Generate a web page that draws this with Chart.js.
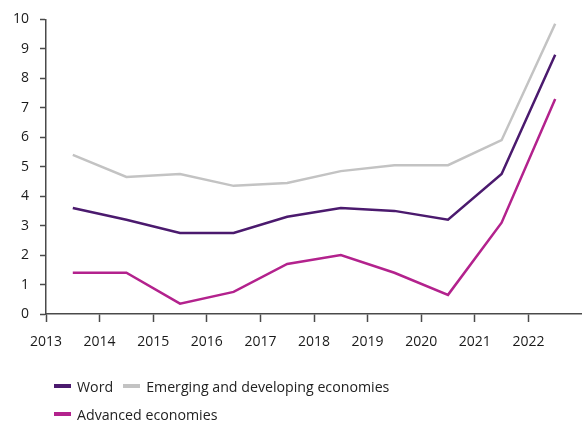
<!DOCTYPE html>
<html>
<head>
<meta charset="utf-8">
<script src="https://cdn.jsdelivr.net/npm/chart.js@4"></script>
<style>
  html, body { margin: 0; padding: 0; background: #fff; }
  #wrap { position: relative; width: 582px; height: 422px; }
  #legend { position: absolute; left: 54px; top: 374px; font-family: "Open Sans", sans-serif; font-size: 14.2px; color: #222; }
  .row { display: flex; align-items: center; height: 24px; margin-bottom: 4px; }
  .item { display: flex; align-items: center; margin-right: 10px; }
  .swatch { width: 17px; height: 4px; margin-right: 6px; }
</style>
</head>
<body>
<div id="wrap">
  <canvas id="chart" width="582" height="422"></canvas>
  <div id="legend"></div>
</div>
<script>
// annual values, plotted mid-year
const years = [2013, 2014, 2015, 2016, 2017, 2018, 2019, 2020, 2021, 2022];
const world = [3.6, 3.2, 2.75, 2.75, 3.3, 3.6, 3.5, 3.2, 4.75, 8.8];
const emerging = [5.4, 4.65, 4.75, 4.35, 4.45, 4.85, 5.05, 5.05, 5.9, 9.85];
const advanced = [1.4, 1.4, 0.35, 0.75, 1.7, 2.0, 1.4, 0.65, 3.1, 7.3];
const yTicks = [0, 1, 2, 3, 4, 5, 6, 7, 8, 9, 10];

const axisColor = '#4a4a4a';
const font = { family: '"Open Sans", sans-serif', size: 14 };

const series = [
  { label: 'Word', values: world, color: '#4b1a6e' },
  { label: 'Emerging and developing economies', values: emerging, color: '#c3c3c3' },
  { label: 'Advanced economies', values: advanced, color: '#b3228d' },
];

const ctx = document.getElementById('chart').getContext('2d');
new Chart(ctx, {
  type: 'line',
  data: {
    datasets: series.map(s => ({
      label: s.label,
      data: s.values.map((v, i) => ({ x: years[i] + 0.5, y: v })),
      borderColor: s.color,
      backgroundColor: s.color,
      borderWidth: 2.5,
      pointRadius: 0,
      tension: 0,
    }))
  },
  options: {
    responsive: false,
    animation: false,
    layout: { padding: { top: 17, right: 0, bottom: 0, left: 0 } },
    plugins: { legend: { display: false }, tooltip: { enabled: false } },
    scales: {
      x: {
        type: 'linear',
        min: years[0],
        max: years[years.length - 1] + 1,
        afterBuildTicks: s => { s.ticks = years.map(v => ({ value: v })); },
        afterFit: s => { s.height = 108; },
        border: { color: axisColor, width: 1.5 },
        grid: { drawOnChartArea: false, tickLength: 8, color: axisColor, tickWidth: 1.5 },
        ticks: { font, color: '#1a1a1a', padding: 12, maxRotation: 0, callback: v => String(v) },
      },
      y: {
        min: 0,
        max: 10,
        afterBuildTicks: s => { s.ticks = yTicks.map(v => ({ value: v })); },
        afterFit: s => { s.width = 46; },
        border: { color: axisColor, width: 1.5 },
        grid: { drawOnChartArea: false, tickLength: 6, color: axisColor, tickWidth: 1.5 },
        ticks: { font, color: '#1a1a1a', padding: 11 },
      }
    }
  }
});

// legend below the axis, two rows
const legend = document.getElementById('legend');
const rows = [[series[0], series[1]], [series[2]]];
rows.forEach(r => {
  const row = document.createElement('div');
  row.className = 'row';
  r.forEach(s => {
    const item = document.createElement('div');
    item.className = 'item';
    item.innerHTML = `<span class="swatch" style="background:${s.color}"></span><span>${s.label}</span>`;
    row.appendChild(item);
  });
  legend.appendChild(row);
});
</script>
</body>
</html>
